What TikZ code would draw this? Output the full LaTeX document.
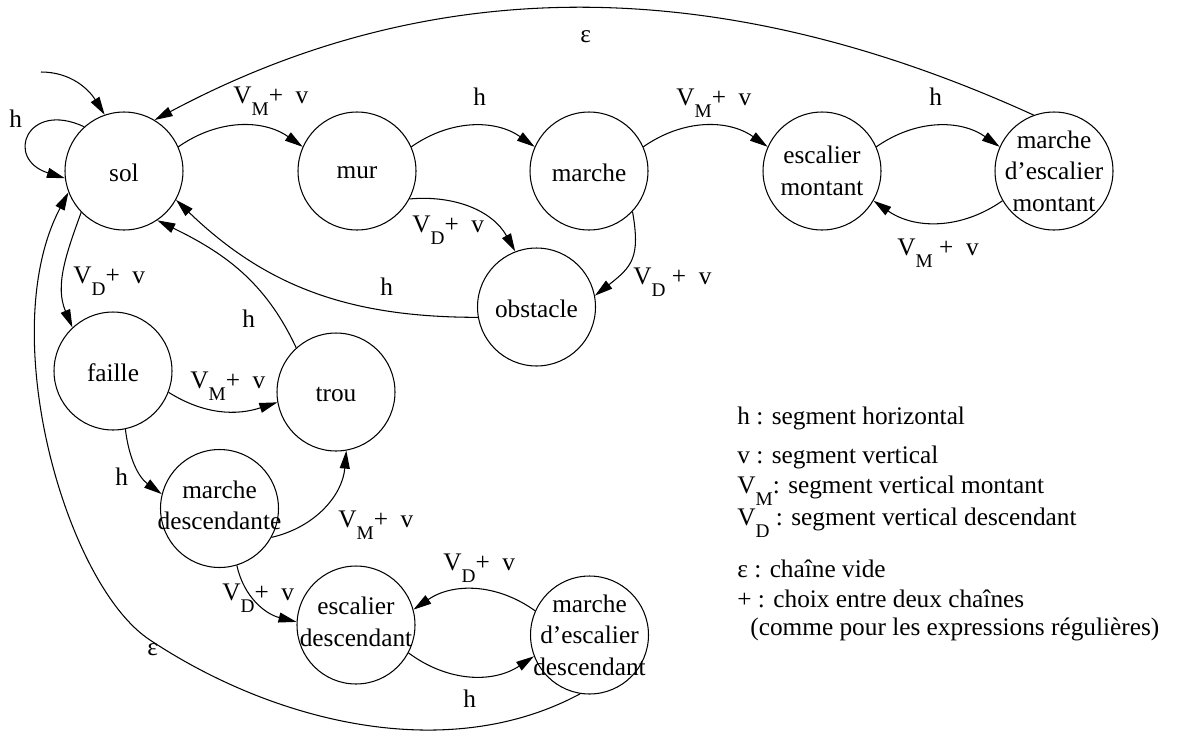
\documentclass[tikz,border=0pt]{standalone}
\usepackage{fontspec}
\setmainfont{Liberation Serif}
\usetikzlibrary{arrows.meta}
\newcommand\lo[1]{\raisebox{-0.5em}{\fontsize{11}{11}\selectfont #1}}
\begin{document}
\begin{tikzpicture}[x=0.02cm,y=-0.02cm,font=\fontsize{14.4}{18}\selectfont,
  st/.style={circle,draw,line width=0.6pt,minimum size=2.36cm,inner sep=0pt},
  txt/.style={align=center,inner sep=0pt},
  lbl/.style={anchor=base west,inner sep=0pt},
  arr/.style={line width=0.6pt,-{Triangle[length=0.36cm,width=0.2cm]}}]
\useasboundingbox (0,0) rectangle (1184,734);

% states
\node[st] (sol) at (124,171) {};
\node[st] (mur) at (357,171) {};
\node[st] (marche) at (589,171) {};
\node[st] (escM) at (822,171) {};
\node[st] (mescM) at (1054,171) {};
\node[st] (obstacle) at (536.5,307) {};
\node[st] (faille) at (113,371) {};
\node[st] (trou) at (336,392) {};
\node[st] (mdesc) at (219.5,508.5) {};
\node[st] (escD) at (356,625) {};
\node[st] (mescD) at (589.5,635) {};

\node[txt] (sol-t) at ([yshift=-0.04cm]sol) {sol};
\node[txt] (mur-t) at ([yshift=-0.04cm]mur) {mur};
\node[txt] (marche-t) at ([yshift=-0.04cm]marche) {marche};
\node[txt] (escM-t) at (escM) {escalier\\montant};
\node[txt] (mescM-t) at (mescM) {marche\\d’escalier\\montant};
\node[txt] (obstacle-t) at ([yshift=-0.04cm]obstacle) {obstacle};
\node[txt] (faille-t) at ([yshift=-0.04cm]faille) {faille};
\node[txt] (trou-t) at ([yshift=-0.04cm]trou) {trou};
\node[txt] (mdesc-t) at ([yshift=0.06cm]mdesc) {marche\\descendante};
\node[txt] (escD-t) at ([yshift=0.06cm]escD) {escalier\\descendant};
\node[txt] (mescD-t) at (mescD) {marche\\d’escalier\\descendant};

% initial arrow and self loop
\coordinate (init) at (41,72);
\draw[arr] (init) to[out=0,in=122] (sol.109);
\draw[arr] (sol.132) .. controls (27,100) and (4,159) .. (sol.187);
\node[lbl] (l-loop) at (9,127) {h};

% top row
\draw[arr] (sol.24) to[bend left=35] (mur.156);
\node[lbl] (l1) at (233,103) {V\lo{M}+~~v};
\draw[arr] (mur.24) to[bend left=35] (marche.156);
\node[lbl] (l2) at (473,105) {h};
\draw[arr] (marche.24) to[bend left=35] (escM.156);
\node[lbl] (l3) at (676,105) {V\lo{M}+~~v};
\draw[arr] (escM.24) to[bend left=35] (mescM.156);
\node[lbl] (l4) at (929,105) {h};
\draw[arr] (mescM.210) to[bend left=35] (escM.330);
\node[lbl] (l5) at (897,255) {V\lo{M} +~~v};

% epsilon top
\draw[arr] (mescM.110) .. controls (737,-20) and (447,-36) .. (sol.59);
\node[lbl] (l6) at (580,42) {ε};

% obstacle
\draw[arr] (mur.332) to[out=5,in=119] (obstacle.111);
\node[lbl] (l7) at (412,232) {V\lo{D}+~~v};
\draw[arr] (marche.317) to[out=-80,in=38,looseness=1.3] (obstacle.11);
\node[lbl] (l8) at (633,284) {V\lo{D} +~~v};
\draw[arr] (obstacle.190) to[out=180,in=316] (sol.331);
\node[lbl] (l9) at (380,295) {h};

% trou -> sol
\draw[arr] (trou.132) to[out=115,in=-26] (sol.304);
\node[lbl] (l10) at (242,327) {h};

% sol -> faille
\draw[arr] (sol.224) to[out=250,in=113] (faille.133);
\node[lbl] (l11) at (73,283) {V\lo{D}+~~v};

% faille
\draw[arr] (faille.339) to[out=-32,in=198] (trou.190);
\node[lbl] (l12) at (190,388) {V\lo{M}+~~v};
\draw[arr] (faille.-78) to[out=-83,in=144] (mdesc.166);
\node[lbl] (l13) at (115,485) {h};

% marche descendante
\draw[arr] (mdesc.331) to[out=13,in=265] (trou.-80);
\node[lbl] (l14) at (338,527) {V\lo{M}+~~v};
\draw[arr] (mdesc.-73) to[out=-78,in=166] (escD.177);
\node[lbl] (l15) at (222,600) {V\lo{D}+~~v};

% escalier descendant
\draw[arr] (mescD.156) to[bend right=35] (escD.15);
\node[lbl] (l16) at (443,570) {V\lo{D}+~~v};
\draw[arr] (escD.-28) to[bend right=35] (mescD.201);
\node[lbl] (l17) at (463,707) {h};

% epsilon bottom
\coordinate (epsmid) at (150,640);
\draw[arr] (mescD.261) .. controls (448,765) and (275,723) .. (epsmid)
   .. controls (66,585) and (-6,333) .. (sol.201);
\node[lbl] (l18) at (147,655) {ε};

% legend
\node[lbl] (g1) at (737,424) {h : segment horizontal};
\node[lbl] (g2) at (737,463) {v : segment vertical};
\node[lbl] (g3) at (737,493) {V\lo{M}: segment vertical montant};
\node[lbl] (g4) at (737,525) {V\lo{D} : segment vertical descendant};
\node[lbl] (g5) at (737,577) {ε : chaîne vide};
\node[lbl] (g6) at (737,607) {+ : choix entre deux chaînes};
\node[lbl] (g7) at (750,635) {(comme pour les expressions régulières)};
\end{tikzpicture}
\end{document}
